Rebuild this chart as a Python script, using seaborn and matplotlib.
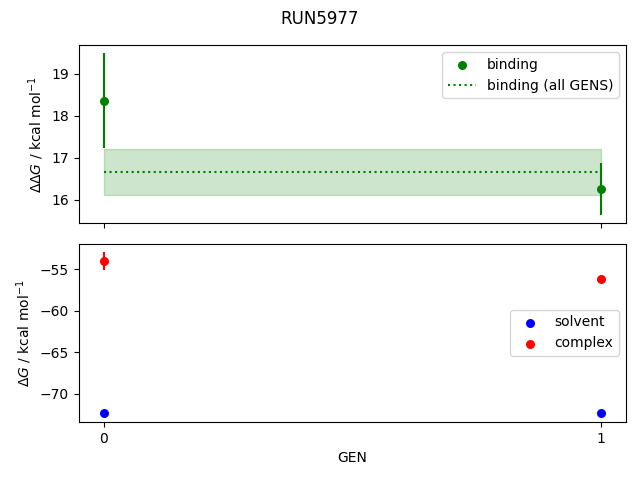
import matplotlib
matplotlib.use("Agg")
import matplotlib.pyplot as plt
import pandas as pd
import seaborn as sns

run_name = "RUN5977"
gens = [0, 1]
binding = [18.36, 16.26]
binding_err = [1.13, 0.62]
binding_all = 16.67
binding_all_err = 0.55
solvent = [-72.4, -72.4]
solvent_err = [0.05, 0.05]
complex_ = [-54.0, -56.1]
complex_err = [1.1, 0.2]


def main():
    df_top = pd.DataFrame({"GEN": gens, "binding": binding})
    df_bot = pd.DataFrame({"GEN": gens, "solvent": solvent, "complex": complex_})

    fig, (ax1, ax2) = plt.subplots(2, 1, sharex=True, figsize=(6.4, 4.8))

    # top panel: binding free energy per GEN plus the combined estimate
    sns.scatterplot(data=df_top, x="GEN", y="binding", color="green",
                    s=42, linewidth=0, label="binding", ax=ax1)
    ax1.errorbar(gens, binding, yerr=binding_err, fmt="none", ecolor="green")
    ax1.hlines(binding_all, gens[0], gens[-1], colors="green",
               linestyles="dotted", label="binding (all GENS)")
    ax1.fill_between(gens, binding_all - binding_all_err,
                     binding_all + binding_all_err, color="green", alpha=0.2)
    ax1.set_ylabel(r"$\Delta\Delta G$ / kcal mol$^{-1}$")
    ax1.set_xlabel("")
    ax1.legend(loc="upper right")

    # bottom panel: solvent and complex legs
    sns.scatterplot(data=df_bot, x="GEN", y="solvent", color="blue",
                    s=42, linewidth=0, label="solvent", ax=ax2)
    ax2.errorbar(gens, solvent, yerr=solvent_err, fmt="none", ecolor="blue")
    sns.scatterplot(data=df_bot, x="GEN", y="complex", color="red",
                    s=42, linewidth=0, label="complex", ax=ax2)
    ax2.errorbar(gens, complex_, yerr=complex_err, fmt="none", ecolor="red")
    ax2.set_ylabel(r"$\Delta G$ / kcal mol$^{-1}$")
    ax2.set_xlabel("GEN")
    ax2.set_xticks(gens)
    ax2.legend(loc="center right")

    fig.suptitle(run_name)
    fig.subplots_adjust(left=0.123, right=0.978, top=0.906, bottom=0.121,
                        hspace=0.118)
    fig.savefig("out.png", dpi=100)


if __name__ == "__main__":
    main()
